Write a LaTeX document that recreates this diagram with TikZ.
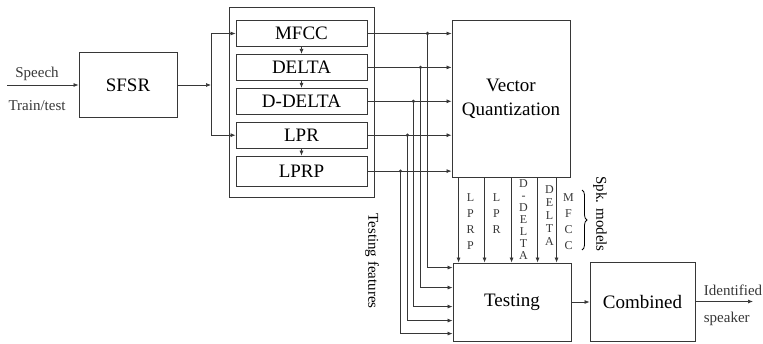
\documentclass[tikz,border=0pt]{standalone}
\usepackage{fontspec}
\setmainfont{Liberation Serif}
\usetikzlibrary{arrows.meta,positioning,decorations.pathreplacing}
\definecolor{linegray}{RGB}{55,55,55}

\begin{document}
\begin{tikzpicture}[
    x=1pt, y=-1pt,
    box/.style={rectangle, draw=linegray, line width=0.9pt, minimum width=98pt, minimum height=65pt, align=center, font=\fontsize{19}{24}\selectfont},
    featbox/.style={rectangle, draw=linegray, line width=0.9pt, minimum width=131pt, minimum height=26pt, inner sep=1pt, font=\fontsize{19}{22}\selectfont},
    arrow/.style={-{Latex[length=5pt,width=4pt]}, line width=0.7pt, linegray},
    lbl/.style={font=\fontsize{15}{18}\selectfont, inner sep=0pt},
    spk/.style={font=\fontsize{12}{16}\selectfont, align=center, anchor=north, inner sep=0pt, xshift=12pt},
]
\useasboundingbox (0,0) rectangle (763,343);

% front end and feature extraction
\node[box] (sfsr) at (128,85) {SFSR};
\node[rectangle, draw=linegray, line width=0.9pt, minimum width=145pt, minimum height=190pt] (feats) at (301.5,102) {};
\node[featbox] (mfcc) at (301.5,33.5) {MFCC};
\node[featbox, below=7pt of mfcc] (delta) {DELTA};
\node[featbox, below=7pt of delta] (ddelta) {D-DELTA};
\node[featbox, below=7pt of ddelta] (lpr) {LPR};
\node[featbox, below=7pt of lpr, minimum height=30pt] (lprp) {LPRP};

% back end
\node[box, minimum width=118pt, minimum height=157pt] (vq) at (511,98.5) {Vector\\Quantization};
\node[box, minimum width=118pt, minimum height=78pt] (test) at (512,302) {Testing};
\node[box, minimum width=105pt, minimum height=79pt] (comb) at (642.5,301.5) {Combined};

\coordinate (speech) at (7,85);
\coordinate (split) at (211,85);
\coordinate (ident) at (753,301.5);

\draw[arrow] (speech) -- node[lbl, pos=.42, above=3.7pt] {Speech} node[lbl, pos=.42, below=15.5pt] {Train/test} (sfsr.west);
\draw[arrow] (sfsr.east) -- (split);
\draw[arrow] (split) |- (mfcc.west);
\draw[arrow] (split) |- (lpr.west);
\draw[arrow] (mfcc.south) -- (delta.north);
\draw[arrow] (delta.south) -- (ddelta.north);
\draw[arrow] (lpr.south) -- (lprp.north);

% features go to VQ and are tapped off for testing
\coordinate (tapM) at ([xshift=60pt]mfcc.east);
\coordinate (tapD) at ([xshift=53pt]delta.east);
\coordinate (tapDD) at ([xshift=46pt]ddelta.east);
\coordinate (tapL) at ([xshift=40pt]lpr.east);
\coordinate (tapLP) at ([xshift=33pt]lprp.east);
\coordinate (inM) at ([yshift=-5pt]test.north west);
\coordinate (inD) at ([yshift=-25pt]test.north west);
\coordinate (inDD) at ([yshift=-44pt]test.north west);
\coordinate (inL) at ([yshift=-58pt]test.north west);
\coordinate (inLP) at ([yshift=-71pt]test.north west);
\draw[arrow] (mfcc.east) -- (mfcc.east -| vq.west);
\draw[arrow] (delta.east) -- (delta.east -| vq.west);
\draw[arrow] (ddelta.east) -- (ddelta.east -| vq.west);
\draw[arrow] (lpr.east) -- (lpr.east -| vq.west);
\draw[arrow] (lprp.east) -- (lprp.east -| vq.west);
\draw[arrow] (tapM) |- (inM);
\draw[arrow] (tapD) |- (inD);
\draw[arrow] (tapDD) |- (inDD);
\draw[arrow] (tapL) |- (inL);
\draw[arrow] (tapLP) |- (inLP);
\fill[linegray] (tapM) circle (1.8) (tapD) circle (1.8) (tapDD) circle (1.8) (tapL) circle (1.8) (tapLP) circle (1.8);
\node[lbl, rotate=-90] (testfeat) at (372,261) {Testing features};

% speaker models
\coordinate (mLP) at ([xshift=7pt]vq.south west);
\coordinate (mL) at ([xshift=33pt]vq.south west);
\coordinate (mDD) at ([xshift=60pt]vq.south west);
\coordinate (mD) at ([xshift=86pt]vq.south west);
\coordinate (mM) at ([xshift=105pt]vq.south west);
\draw[arrow] (mLP) -- node[spk, pos=.19] {L\\P\\R\\P} (mLP |- test.north);
\draw[arrow] (mL) -- node[spk, pos=.19] {L\\P\\R} (mL |- test.north);
\draw[arrow] (mDD) -- node[spk, pos=.02, font=\fontsize{12}{12}\selectfont] {D\\-\\D\\E\\L\\T\\A} (mDD |- test.north);
\draw[arrow] (mD) -- node[spk, pos=.09, font=\fontsize{12}{13}\selectfont] {D\\E\\L\\T\\A} (mD |- test.north);
\draw[arrow] (mM) -- node[spk, pos=.19] {M\\F\\C\\C} (mM |- test.north);
\draw[line width=0.8pt, decorate, decoration={brace, amplitude=5pt}] (582,190) -- (582,250);
\node[lbl, rotate=-90] (spkmod) at (600,214) {Spk. models};

\draw[arrow] (test.east) -- (test.east -| comb.west);
\draw[arrow] (comb.east) -- node[lbl, pos=.14, anchor=south west, yshift=5.5pt] {Identified} node[lbl, pos=.14, anchor=north west, yshift=-10.5pt] {speaker} (ident);
\end{tikzpicture}
\end{document}
